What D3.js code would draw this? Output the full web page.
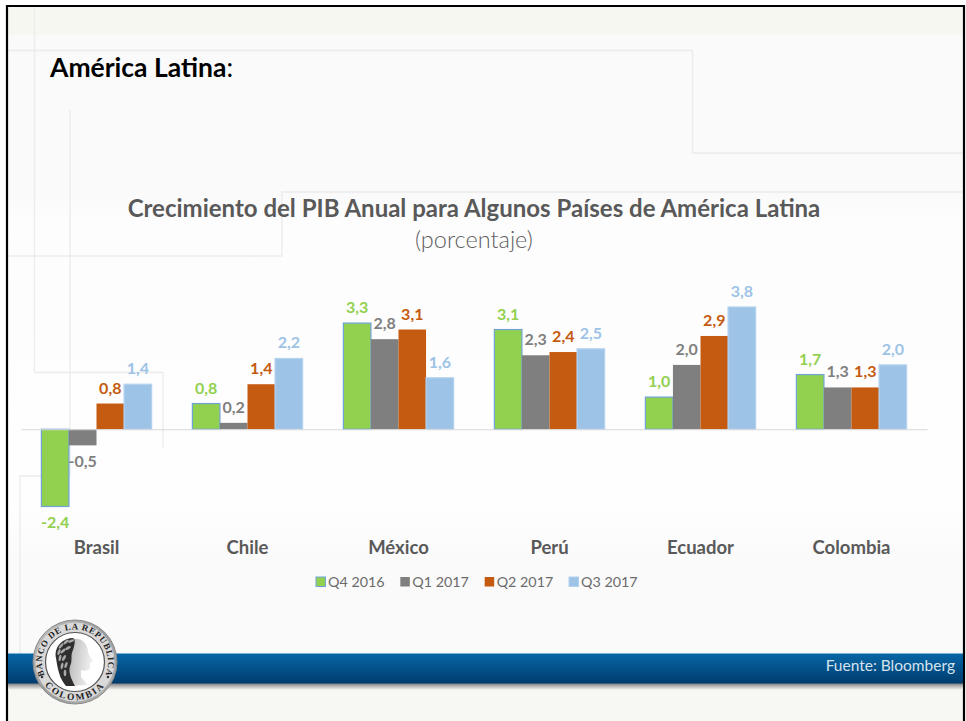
<!DOCTYPE html>
<html>
<head>
<meta charset="utf-8">
<script src="https://cdn.jsdelivr.net/npm/d3@7/dist/d3.min.js"></script>
<style>html,body{margin:0;padding:0;background:#fff}svg{display:block}text{font-family:Lato,"Open Sans",sans-serif}</style>
</head>
<body>
<div id="chart"></div>
<script>
const countries = ["Brasil","Chile","México","Perú","Ecuador","Colombia"];
const seriesNames = ["Q4 2016","Q1 2017","Q2 2017","Q3 2017"];
const q42016 = [-2.4,0.8,3.3,3.1,1.0,1.7];
const q12017 = [-0.5,0.2,2.8,2.3,2.0,1.3];
const q22017 = [0.8,1.4,3.1,2.4,2.9,1.3];
const q32017 = [1.4,2.2,1.6,2.5,3.8,2.0];
const allSeries = [q42016,q12017,q22017,q32017];
const barColors = ["#92d050","#7f7f7f","#c55a11","#9dc3e6"];
const barStrokes = ["#6fa3d8","none","none","#b4d2ee"];
const fmt = v => String(v.toFixed(1)).replace(".",",");

const W=966,H=721;
const svg=d3.select("#chart").append("svg").attr("width",W).attr("height",H);
const defs=svg.append("defs");
function grad(id,stops,x2=0,y2=1){
  const g=defs.append("linearGradient").attr("id",id).attr("x1",0).attr("y1",0).attr("x2",x2).attr("y2",y2);
  stops.forEach(s=>g.append("stop").attr("offset",s[0]).attr("stop-color",s[1]));
}
grad("band",[[0,"#0766a6"],[1,"#003c6e"]]);
grad("shadow",[[0,"#77777a"],[0.45,"#b5b5b5"],[1,"#f7f7f4"]]);
grad("bgmid",[[0,"#fafafa"],[0.08,"#fdfdfd"],[0.85,"#fefefe"],[1,"#fafafa"]]);
grad("ringG",[[0,"#c4c4c4"],[0.5,"#9c9c9c"],[1,"#b4b4b4"]],1,1);
grad("headG",[[0,"#8a8a8a"],[0.5,"#c9c9c9"],[1,"#efefef"]],1,0.2);

// slide background
svg.append("rect").attr("x",7).attr("y",6).attr("width",957).attr("height",715).attr("fill","#fafafa");
svg.append("rect").attr("x",8).attr("y",7).attr("width",955).attr("height",28).attr("fill","#f7f7f2");
svg.append("rect").attr("x",8).attr("y",192).attr("width",955).attr("height",370).attr("fill","url(#bgmid)");
svg.append("rect").attr("x",8).attr("y",684).attr("width",955).attr("height",37).attr("fill","#f7f7f4");

// faint decorative frame lines
const frame=[[[34.5,7],[34.5,372.5],[163,372.5],[163,448]],
 [[70,110],[70,476],[20,476],[20,654]],
 [[8,50.5],[692.5,50.5],[692.5,153],[963,153]],
 [[963,192],[282,192],[282,256],[8,256]]];
svg.append("g").selectAll("path").data(frame).join("path")
  .attr("d",d3.line()).attr("fill","none").attr("stroke","#ececec").attr("stroke-width",1.3);

// border
svg.append("path").attr("d","M7,721V6H964V721").attr("fill","none").attr("stroke","#000").attr("stroke-width",2.2);

// headings
const h=svg.append("text").attr("x",50).attr("y",77).attr("font-size",26.5).attr("fill","#000");
h.append("tspan").attr("font-weight",700).text("América Latina");
h.append("tspan").text(":");
svg.append("text").attr("x",474).attr("y",217).attr("text-anchor","middle").attr("font-size",24).attr("font-weight",700).attr("fill","#595959")
  .text("Crecimiento del PIB Anual para Algunos Países de América Latina");
svg.append("text").attr("x",474).attr("y",248).attr("text-anchor","middle").attr("font-size",23.5).attr("font-weight",300).attr("fill","#606060").text("(porcentaje)");

// scales
const x0=d3.scaleBand().domain(countries).range([21,927]).paddingInner(0.27).paddingOuter(0.135);
const x1=d3.scaleBand().domain(d3.range(4)).range([0,x0.bandwidth()]);
const y=d3.scaleLinear().domain([-2.4,3.8]).range([506.5,307]);

// bars
const rows=countries.map((c,i)=>allSeries.map((s,k)=>({c,k,v:s[i]})));
const groups=svg.append("g").selectAll("g").data(rows).join("g").attr("transform",(d,i)=>`translate(${x0(countries[i])},0)`);
groups.selectAll("rect").data(d=>d).join("rect")
  .attr("x",d=>x1(d.k)).attr("width",x1.bandwidth())
  .attr("y",d=>Math.min(y(0),y(d.v))).attr("height",d=>Math.abs(y(d.v)-y(0)))
  .attr("fill",d=>barColors[d.k]).attr("stroke",d=>barStrokes[d.k]).attr("stroke-width",1.2);
groups.selectAll("text").data(d=>d).join("text")
  .attr("x",d=>x1(d.k)+x1.bandwidth()/2)
  .attr("y",d=>d.v<0?y(d.v)+21.5:y(d.v)-10)
  .attr("text-anchor","middle").attr("font-size",16).attr("font-weight",700)
  .attr("fill",d=>barColors[d.k]).text(d=>fmt(d.v));

// category axis
const axis=svg.append("g").attr("transform",`translate(0,${y(0)})`)
  .call(d3.axisBottom(x0).tickSize(0).tickPadding(112));
axis.select(".domain").attr("stroke","#d9d9d9").attr("stroke-width",1.2);
axis.selectAll("text").attr("font-size",18.5).attr("font-weight",700).attr("fill","#595959")
  .style("font-family","Lato");

// legend
const legendX=d3.scalePoint().domain(seriesNames).range([316,569]);
const lg=svg.append("g").selectAll("g").data(seriesNames).join("g").attr("transform",d=>`translate(${legendX(d)},577)`);
lg.append("rect").attr("width",9.5).attr("height",9.5).attr("fill",(d,i)=>barColors[i]).attr("stroke",(d,i)=>barStrokes[i]);
lg.append("text").attr("x",12).attr("y",9.5).attr("font-size",14.3).attr("fill","#6b6b6b").text(d=>d);

// footer band
svg.append("rect").attr("x",8).attr("y",683).attr("width",955).attr("height",7).attr("fill","url(#shadow)");
svg.append("rect").attr("x",8).attr("y",653.5).attr("width",955).attr("height",30).attr("fill","url(#band)");
svg.append("text").attr("x",955).attr("y",671).attr("text-anchor","end").attr("font-size",15.5).attr("fill","#d5e3ee").text("Fuente: Bloomberg");

// seal
const seal=svg.append("g").attr("transform","translate(75,662)");
seal.append("circle").attr("r",42).attr("fill","url(#ringG)").attr("stroke","#8a8a8a");
seal.append("circle").attr("r",39.5).attr("fill","#d9d9d9");
seal.append("circle").attr("r",29.5).attr("fill","#fff").attr("stroke","#555").attr("stroke-width",1.2);
defs.append("path").attr("id","arcTop").attr("d","M-30.5,13 A33,33 0 1 1 30.5,13");
defs.append("path").attr("id","arcBot").attr("d","M-30,23.5 A38,38 0 0 0 30,23.5");
seal.append("text").attr("font-size",8.8).attr("font-weight",700).attr("fill","#222").attr("letter-spacing",0.75).style("font-family","Liberation Serif")
  .append("textPath").attr("href","#arcTop").attr("startOffset","50%").attr("text-anchor","middle").text("BANCO DE LA REPUBLICA");
seal.append("text").attr("font-size",9.5).attr("font-weight",700).attr("fill","#222").style("font-family","Liberation Serif")
  .attr("letter-spacing",2)
  .append("textPath").attr("href","#arcBot").attr("startOffset","50%").attr("text-anchor","middle").text("COLOMBIA");
seal.selectAll("circle.dot").data([[-33,15],[33,15]]).join("circle").attr("class","dot").attr("cx",d=>d[0]).attr("cy",d=>d[1]).attr("r",1.3).attr("fill","#333");
// head in profile
seal.append("path").attr("d","M-14,-16C-9,-24 5,-26 10,-19C13,-15 13,-10 14,-7L18,-1L15,1L15,6C14,9 9,9 6,8L6,15L13,23L-6,24L-15,15Z").attr("fill","url(#headG)");
seal.append("path").attr("d","M-19,-4C-21,-14 -14,-23 -3,-24C1,-24 0,-18 -2,-12C-5,-7 -2,-1 -5,4C-7,11 -3,18 0,24L-9,24C-15,17 -17,9 -19,-4Z").attr("fill","#2f2f2f");
seal.append("g").selectAll("ellipse").data([[-14,-16,-50],[-9,-20,-40],[-4,-21,-20],[-16,-10,-70],[-15,-4,-80],[-12,-11,-40],[-7,-14,-30],[-11,-4,-60],[-9,3,-70],[-13,4,-80],[-10,11,-90]])
  .join("ellipse").attr("rx",3.2).attr("ry",1.3).attr("fill","#a9a9a9")
  .attr("transform",d=>`translate(${d[0]},${d[1]}) rotate(${d[2]})`);
</script>
</body>
</html>
